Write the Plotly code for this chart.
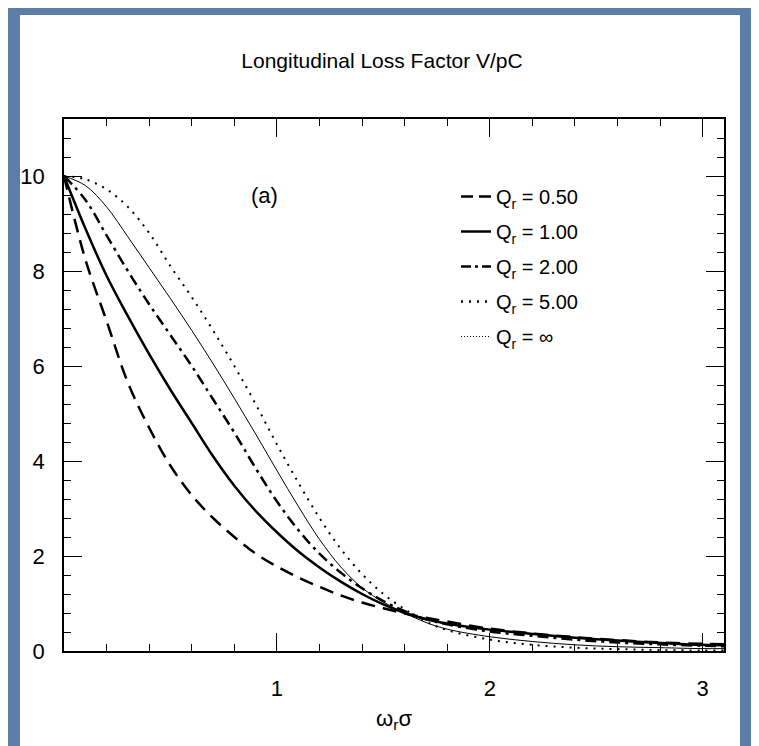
import plotly.graph_objects as go

# omega_r * sigma
x_vals = [0, 0.1, 0.2, 0.3, 0.4, 0.5, 0.6, 0.7, 0.8, 0.9, 1.0, 1.1, 1.2, 1.3, 1.4,
          1.5, 1.6, 1.7, 1.8, 2.0, 2.2, 2.4, 2.6, 2.8, 3.0, 3.1]

# loss factor V/pC
q_050 = [10, 8.25, 6.95, 5.65, 4.7, 3.9, 3.28, 2.8, 2.4, 2.05, 1.78, 1.55, 1.35, 1.17, 1.02,
         0.9, 0.79, 0.7, 0.62, 0.47, 0.37, 0.29, 0.23, 0.18, 0.15, 0.14]
q_100 = [10, 8.9, 7.9, 7.05, 6.25, 5.5, 4.8, 4.1, 3.48, 2.95, 2.5, 2.1, 1.76, 1.46, 1.2,
         0.98, 0.8, 0.67, 0.58, 0.45, 0.36, 0.28, 0.22, 0.17, 0.13, 0.12]
q_200 = [10, 9.5, 8.75, 8.0, 7.3, 6.65, 6.0, 5.3, 4.6, 3.85, 3.15, 2.55, 2.05, 1.65, 1.32,
         1.05, 0.84, 0.67, 0.56, 0.41, 0.32, 0.24, 0.18, 0.14, 0.11, 0.10]
q_500 = [10, 9.8, 9.35, 8.72, 8.07, 7.42, 6.75, 6.05, 5.32, 4.57, 3.8, 3.05, 2.35, 1.77, 1.33,
         1.03, 0.8, 0.6, 0.46, 0.3, 0.2, 0.13, 0.09, 0.07, 0.05, 0.05]
q_inf = [10, 9.93, 9.72, 9.35, 8.8, 8.1, 7.45, 6.75, 6.0, 5.2, 4.35, 3.55, 2.8, 2.15, 1.62,
         1.2, 0.88, 0.62, 0.44, 0.24, 0.13, 0.07, 0.04, 0.02, 0.01, 0.01]

legend_names = ["Q<sub>r</sub> = 0.50", "Q<sub>r</sub> = 1.00", "Q<sub>r</sub> = 2.00",
                "Q<sub>r</sub> = 5.00", "Q<sub>r</sub> = ∞"]

series = [q_050, q_100, q_200, q_500, q_inf]
plot_styles = [
    dict(width=2.5, dash="14px,8px"),
    dict(width=2.5, dash="solid"),
    dict(width=2.5, dash="11px,5px,3px,5px"),
    dict(width=1.0, dash="solid"),
    dict(width=2.0, dash="2px,6px"),
]
legend_styles = [
    dict(width=2.5, dash="12px,6px"),
    dict(width=2.5, dash="solid"),
    dict(width=2.5, dash="10px,4px,3px,4px"),
    dict(width=2.5, dash="2px,6px"),
    dict(width=1.0, dash="1px,2px"),
]

FONT = "Liberation Sans, Arial, sans-serif"

fig = go.Figure()
for ys, st in zip(series, plot_styles):
    fig.add_trace(go.Scatter(x=x_vals, y=ys, mode="lines", line_shape="spline",
                             line=dict(color="black", **st), showlegend=False,
                             hoverinfo="skip"))
for i, (nm, st) in enumerate(zip(legend_names, legend_styles)):
    fig.add_trace(go.Scatter(x=[None], y=[None], mode="lines", name=nm,
                             legendgroup="g%d" % i,
                             line=dict(color="black", **st)))

axis_common = dict(showline=True, linecolor="black", linewidth=1.5, mirror="ticks",
                   ticks="inside", tickcolor="black", tickwidth=1.2, ticklen=18,
                   showgrid=False, zeroline=False,
                   tickfont=dict(family=FONT, size=22, color="black"))

fig.update_xaxes(range=[0, 3.1], tickmode="array", tickvals=[1, 2, 3],
                 minor=dict(dtick=0.2, tick0=0, ticks="inside", ticklen=7,
                            tickcolor="black", tickwidth=1.2),
                 ticklabelstandoff=17,
                 title=dict(text="ω<sub>r</sub>σ", standoff=10,
                            font=dict(family=FONT, size=22, color="black")),
                 **axis_common)
fig.update_yaxes(range=[0, 11.2], tick0=0, dtick=2,
                 minor=dict(dtick=0.4, tick0=0, ticks="inside", ticklen=7,
                            tickcolor="black", tickwidth=1.2),
                 ticklabelstandoff=13,
                 **axis_common)

fig.add_annotation(x=0.94, y=9.6, xref="x", yref="y", text="(a)", showarrow=False,
                   font=dict(family=FONT, size=22, color="black"))

# white slide panel over blue background
L, R, T, B = 56, 43, 111, 103
PW, PH = 759 - L - R, 746 - T - B
fig.add_shape(type="rect", xref="paper", yref="paper", layer="below",
              x0=(12 - L) / PW, x1=(732 - L) / PW,
              y0=(746 - B - 760) / PH, y1=(746 - B - 7) / PH,
              fillcolor="white", line=dict(width=0))

fig.update_layout(
    width=759, height=746,
    margin=dict(l=L, r=R, t=T, b=B),
    paper_bgcolor="#5a7ea6",
    plot_bgcolor="white",
    title=dict(text="Longitudinal Loss Factor V/pC", x=374 / 759, xanchor="center",
               y=1 - 53 / 746, yanchor="middle",
               font=dict(family=FONT, size=21, color="black")),
    legend=dict(x=(448 - L) / PW, xanchor="left", y=(746 - B - 169) / PH, yanchor="top",
                bgcolor="rgba(0,0,0,0)", tracegroupgap=6,
                font=dict(family=FONT, size=20, color="black")),
    showlegend=True,
)

fig.write_html("out.html")
